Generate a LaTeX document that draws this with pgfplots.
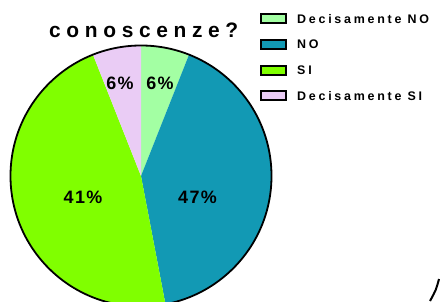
\documentclass[border=0pt]{standalone}
\usepackage{pgfplots}
\pgfplotsset{compat=1.18}
\usepackage{fontspec}
\setmainfont{Liberation Sans}
\newfontfamily\titlefont{Liberation Sans}[LetterSpace=27]
\newfontfamily\legfont{Liberation Sans}[LetterSpace=22]
\newfontfamily\lblfont{Liberation Sans}[LetterSpace=8]
\definecolor{decno}{HTML}{A3FFA3}
\definecolor{nocol}{HTML}{1299B4}
\definecolor{sicol}{HTML}{80FF00}
\definecolor{decsi}{HTML}{EACCF5}
\begin{document}
\begin{tikzpicture}
% slice shares (percent of the circle), clockwise from 12 o'clock
\def\vA{6}\def\vB{41}\def\vC{47}\def\vD{6}
\pgfmathsetmacro\aA{90-3.6*\vA}
\pgfmathsetmacro\aB{\aA-3.6*\vB}
\pgfmathsetmacro\aC{\aB-3.6*\vC}
\pgfmathsetmacro\aD{\aC-3.6*\vD}
\begin{axis}[scale only axis, width=440bp, height=301bp,
  xmin=0, xmax=440, ymin=-301, ymax=0, hide axis, clip=true]
\fill[decno] (axis cs:141,-176) -- ++(90:130.5bp) arc[start angle=90, end angle=\aA, radius=130.5bp] -- cycle;
\fill[nocol] (axis cs:141,-176) -- ++(\aA:130.5bp) arc[start angle=\aA, end angle=\aB, radius=130.5bp] -- cycle;
\fill[sicol] (axis cs:141,-176) -- ++(\aB:130.5bp) arc[start angle=\aB, end angle=\aC, radius=130.5bp] -- cycle;
\fill[decsi] (axis cs:141,-176) -- ++(\aC:130.5bp) arc[start angle=\aC, end angle=\aD, radius=130.5bp] -- cycle;
\draw[line width=1.8bp] (axis cs:141,-176) circle[radius=130.5bp];
% data labels
\node[font=\lblfont\bfseries\fontsize{18}{18}\selectfont] at (axis cs:160,-83) {6\%};
\node[font=\lblfont\bfseries\fontsize{18}{18}\selectfont] at (axis cs:197.5,-197) {47\%};
\node[font=\lblfont\bfseries\fontsize{18}{18}\selectfont] at (axis cs:83,-197) {41\%};
\node[font=\lblfont\bfseries\fontsize{18}{18}\selectfont] at (axis cs:120,-83) {6\%};
% title (second line)
\node[font=\titlefont\bfseries\fontsize{21}{21}\selectfont, anchor=base west, inner sep=0pt] at (axis cs:49,-37.7) {conoscenze?};
% legend
\draw[fill=decno, line width=2bp] (axis cs:260.5,-14.3) rectangle (axis cs:286,-23.2);
\draw[fill=nocol, line width=2bp] (axis cs:260.5,-40) rectangle (axis cs:286,-48.9);
\draw[fill=sicol, line width=2bp] (axis cs:260.5,-65.7) rectangle (axis cs:286,-74.6);
\draw[fill=decsi, line width=2bp] (axis cs:260.5,-91.4) rectangle (axis cs:286,-100.3);
\node[font=\legfont\bfseries\fontsize{12.5}{12.5}\selectfont, anchor=base west, inner sep=0pt] at (axis cs:297,-23.2) {Decisamente NO};
\node[font=\legfont\bfseries\fontsize{12.5}{12.5}\selectfont, anchor=base west, inner sep=0pt] at (axis cs:297,-48.9) {NO};
\node[font=\legfont\bfseries\fontsize{12.5}{12.5}\selectfont, anchor=base west, inner sep=0pt] at (axis cs:297,-74.6) {SI};
\node[font=\legfont\bfseries\fontsize{12.5}{12.5}\selectfont, anchor=base west, inner sep=0pt] at (axis cs:297,-100.3) {Decisamente SI};
% border fragment bottom right
\draw[line width=2bp] (axis cs:439,-279) .. controls (axis cs:436,-290) .. (axis cs:430,-301);
\end{axis}
\pgfresetboundingbox
\useasboundingbox (current axis.south west) rectangle (current axis.north east);
\end{tikzpicture}
\end{document}
